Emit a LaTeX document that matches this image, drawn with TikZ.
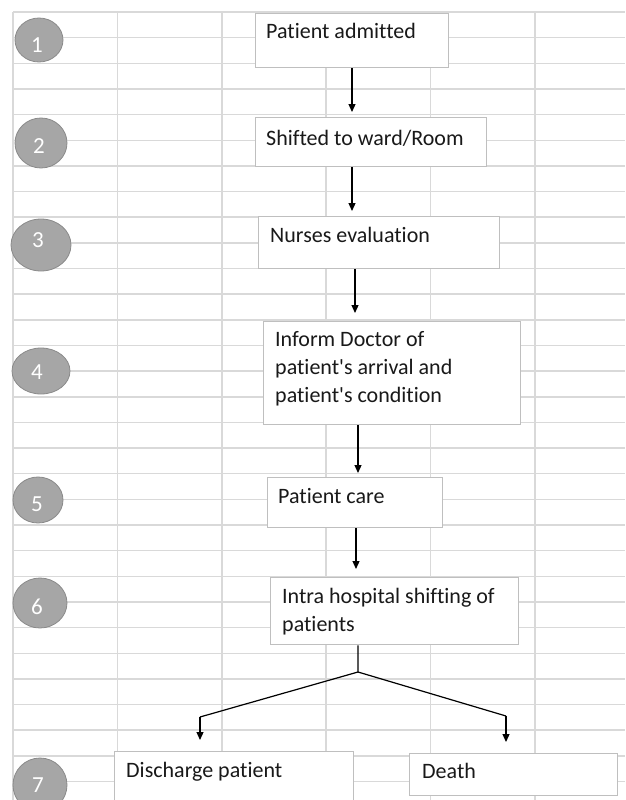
\documentclass[tikz,border=0pt]{standalone}
\usepackage{fontspec}
\setmainfont{Carlito}[Ligatures={NoCommon,TeXOff}]
\usetikzlibrary{arrows.meta,shapes.geometric}
\definecolor{gridc}{HTML}{D9D9D9}
\definecolor{boxc}{HTML}{BFBFBF}
\definecolor{circfill}{HTML}{A6A6A6}
\definecolor{circdraw}{HTML}{8A8A8A}
\tikzset{
  gridline/.style={draw=gridc, line width=1.5pt},
  stepbox/.style={draw=boxc, fill=white, line width=1.3pt, rectangle, inner sep=0pt, anchor=north west},
  boxtext/.style={anchor=base west, inner sep=0pt, font=\fontsize{22}{28}\selectfont, text=black!90, align=flush left},
  numcirc/.style={ellipse, draw=circdraw, fill=circfill, line width=0.8pt, inner sep=0pt},
  numtext/.style={text=white, font=\fontsize{23}{26}\selectfont, inner sep=0pt},
  arr/.style={draw=black, line width=1.2pt, -{Triangle[length=8pt,width=7pt]}},
  conn/.style={draw=black, line width=1.2pt},
}
\begin{document}
\begin{tikzpicture}[x=1pt, y=-1pt]
\useasboundingbox (0,0) rectangle (625,800);
\fill[white] (0,0) rectangle (625,800);
% grid
\foreach \k in {0,...,30}{
  \draw[gridline] (13,{12+25.65*\k}) -- (625,{12+25.65*\k});
}
\foreach \j in {0,...,5}{
  \draw[gridline] ({13+104.4*\j},12) -- ({13+104.4*\j},800);
}
% circles
\node[numcirc, minimum width=48pt, minimum height=44pt] (c1) at (39,40) {};
\node[numcirc, minimum width=52pt, minimum height=50pt] (c2) at (41,143) {};
\node[numcirc, minimum width=60pt, minimum height=52pt] (c3) at (41,245) {};
\node[numcirc, minimum width=58pt, minimum height=46pt] (c4) at (41,371) {};
\node[numcirc, minimum width=50pt, minimum height=46pt] (c5) at (38,500) {};
\node[numcirc, minimum width=54pt, minimum height=50pt] (c6) at (40,603) {};
\node[numcirc, minimum width=54pt, minimum height=54pt] (c7) at (40,785) {};
\node[numtext] (n1) at (37,45) {1};
\node[numtext] (n2) at (39,146) {2};
\node[numtext] (n3) at (38,240) {3};
\node[numtext] (n4) at (37,372) {4};
\node[numtext] (n5) at (37,504) {5};
\node[numtext] (n6) at (37,607) {6};
\node[numtext] (n7) at (38,785) {7};
% boxes
\node[stepbox, minimum width=193pt, minimum height=54pt] (b1) at (255,13) {};
\node[stepbox, minimum width=231pt, minimum height=49pt] (b2) at (255,117) {};
\node[stepbox, minimum width=241pt, minimum height=52pt] (b3) at (258,216) {};
\node[stepbox, minimum width=257pt, minimum height=103pt] (b4) at (263,321) {};
\node[stepbox, minimum width=175pt, minimum height=50pt] (b5) at (267,477) {};
\node[stepbox, minimum width=248pt, minimum height=67pt] (b6) at (270,577) {};
\node[stepbox, minimum width=239pt, minimum height=60pt] (b7a) at (114,751) {};
\node[stepbox, minimum width=208pt, minimum height=42pt] (b7b) at (409,753) {};
% texts
\node[boxtext] (t1) at (266,39) {Patient admitted};
\node[boxtext] (t2) at (266,145) {Shifted to ward/Room};
\node[boxtext] (t3) at (270,242) {Nurses evaluation};
\node[boxtext, text width=240pt] (t4) at (275,346) {Inform Doctor of\\patient's arrival and\\patient's condition};
\node[boxtext] (t5) at (278,503) {Patient care};
\node[boxtext, text width=240pt] (t6) at (282,603) {Intra hospital shifting of\\patients};
\node[boxtext] (t7a) at (126,777) {Discharge patient};
\node[boxtext] (t7b) at (422,778) {Death};
% connectors
\draw[arr, shorten >=5pt] (b1.south -| 352,0) -- (b2.north -| 352,0);
\draw[arr, shorten >=5pt] (b2.south -| 352,0) -- (b3.north -| 352,0);
\draw[arr, shorten >=8pt] (b3.south -| 355,0) -- (b4.north -| 355,0);
\draw[arr, shorten >=4pt] (b4.south -| 358,0) -- (b5.north -| 358,0);
\draw[arr, shorten >=8pt] (b5.south -| 356,0) -- (b6.north -| 356,0);
\coordinate (split) at (358,672);
\coordinate (kl) at (200,717);
\coordinate (kr) at (506,716);
\draw[conn] (b6.south -| split) -- (split) -- (kl);
\draw[conn] (split) -- (kr);
\draw[arr, shorten >=11pt] (kl) -- (b7a.north -| kl);
\draw[arr, shorten >=11pt] (kr) -- (b7b.north -| kr);
\end{tikzpicture}
\end{document}
